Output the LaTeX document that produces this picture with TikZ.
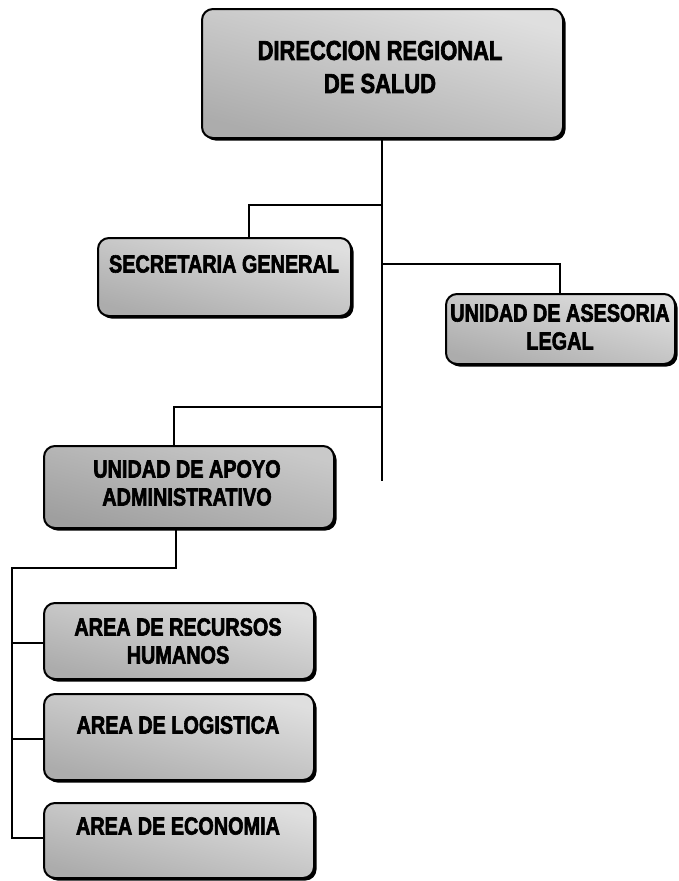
\documentclass[tikz,border=0pt]{standalone}
\usepackage{fontspec}
\newfontfamily\boxfont{Liberation Sans Bold}[FakeStretch=0.8, FakeBold=2.4]
\usetikzlibrary{shadows}
\tikzset{
  orgbox/.style={draw=black, line width=2pt, rounded corners=11pt, inner sep=0pt,
    anchor=north west,
    drop shadow={shadow xshift=2.5pt, shadow yshift=-2.5pt, fill=black, opacity=1},
    top color=gray!25, bottom color=gray!65, shading angle=-15},
  darkbox/.style={orgbox, top color=gray!42, bottom color=gray!75, shading angle=-15},
  boxtext/.style={font=\boxfont\fontsize{24.8}{28}\selectfont, align=center, inner sep=0pt, text=black},
  conn/.style={line width=2.4pt, black, line cap=rect}
}
\begin{document}
\begin{tikzpicture}[x=1pt,y=-1pt]
\useasboundingbox (0,0) rectangle (678,881);
% boxes
\node[orgbox, minimum width=361pt, minimum height=129pt] (dir) at (201,8) {};
\node[orgbox, minimum width=253pt, minimum height=78pt] (sec) at (97,237) {};
\node[orgbox, minimum width=229pt, minimum height=70pt] (leg) at (445,293) {};
\node[darkbox, minimum width=290pt, minimum height=82pt] (apo) at (43,445) {};
\node[orgbox, minimum width=270pt, minimum height=76pt] (rrhh) at (43,602) {};
\node[orgbox, minimum width=270pt, minimum height=86pt] (log) at (43,693) {};
\node[orgbox, minimum width=270pt, minimum height=75pt] (eco) at (43,802) {};
% texts
\node[boxtext, font=\boxfont\fontsize{27.4}{33}\selectfont] (tdir) at (380,67) {DIRECCION REGIONAL\\DE SALUD};
\node[boxtext] (tsec) at (224,264) {SECRETARIA GENERAL};
\node[boxtext] (tleg) at (560,327) {UNIDAD DE ASESORIA\\LEGAL};
\node[boxtext] (tapo) at (187,483) {UNIDAD DE APOYO\\ADMINISTRATIVO};
\node[boxtext] (trrhh) at (178,641) {AREA DE RECURSOS\\HUMANOS};
\node[boxtext] (tlog) at (178,725) {AREA DE LOGISTICA};
\node[boxtext] (teco) at (178,826) {AREA DE ECONOMIA};
% junctions
\coordinate (mainend) at (382,480);
\coordinate (jsec) at (382,205);
\coordinate (jleg) at (382,264);
\coordinate (japo) at (382,407);
\coordinate (lefttop) at (12,568);
\coordinate (leftbot) at (12,838);
% connectors
\draw[conn] (dir.south -| mainend) -- (mainend);
\draw[conn] (jsec) -| ([xshift=24.5pt]sec.north);
\draw[conn] (jleg) -| ([xshift=-0.5pt]leg.north);
\draw[conn] (japo) -| ([xshift=-15pt]apo.north);
\draw[conn] ([xshift=-13pt]apo.south) |- (lefttop) -- (leftbot);
\draw[conn] (lefttop |- rrhh.west) ++(0,2) -- ([yshift=-2pt]rrhh.west);
\draw[conn] (lefttop |- log.west) ++(0,2) -- ([yshift=-2pt]log.west);
\draw[conn] (leftbot) -- (leftbot -| eco.west);
\end{tikzpicture}
\end{document}
